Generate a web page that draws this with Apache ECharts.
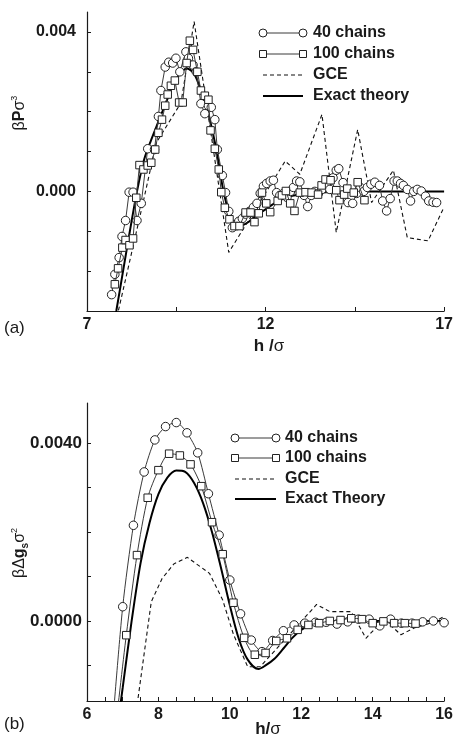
<!DOCTYPE html>
<html><head><meta charset="utf-8">
<script src="https://cdn.jsdelivr.net/npm/echarts@6/dist/echarts.min.js"></script>
<style>html,body{margin:0;padding:0;background:#fff}#c{width:456px;height:743px}</style>
</head><body><div id="c"></div>
<script>
const FONT = '"Liberation Sans", Arial, Helvetica, sans-serif';

// ---------- Panel (a): beta P sigma^3 vs h/sigma ----------
const aXTicks = [7, 9.5, 12, 14.5, 17];
const aXLabels = [7, 12, 17];
const aYTicks = [-0.002, -0.001, 0, 0.001, 0.002, 0.003, 0.004];
const aYLabels = [0, 0.004];

const aChains40 = [
 [7.69,-0.00259],[7.78,-0.00208],[7.9,-0.00166],[7.98,-0.00113],[8.08,-0.00073],[8.18,-0.00002],
 [8.29,-0.00002],[8.4,-0.00073],[8.52,-0.0003],[8.7,0.00107],[8.89,0.00105],[9.0,0.00188],
 [9.07,0.00253],[9.19,0.00312],[9.29,0.00324],[9.4,0.00322],[9.49,0.00334],[9.6,0.003],
 [9.77,0.0035],[9.84,0.00334],[9.97,0.00317],[10.06,0.003],[10.19,0.0022],[10.3,0.00195],
 [10.4,0.00215],[10.48,0.00211],[10.58,0.0018],[10.65,0.00105],[10.79,0.0004],[10.88,-0.00003],
 [10.97,-0.0005],[11.07,-0.00091],[11.16,-0.00083],[11.25,-0.00075],[11.35,-0.00068],[11.44,-0.00057],
 [11.55,-0.0005],[11.66,-0.0004],[11.76,-0.0003],[11.85,-0.00005],[11.94,0.00013],[12.03,0.0002],
 [12.13,0.00026],[12.22,0.00028],[12.31,-0.00003],[12.4,-0.0001],[12.5,-0.00005],[12.6,-0.00015],
 [12.7,0.0],[12.78,0.0001],[12.87,0.00026],[12.96,0.00024],[13.08,-0.0001],[13.18,-0.00038],
 [13.28,-0.0001],[13.38,0.0],[13.48,-0.00005],[13.58,0.00005],[13.7,0.00018],[13.8,0.00005],
 [13.89,0.00034],[13.98,0.00053],[14.05,0.00057],[14.17,0.00022],[14.31,-0.00028],[14.44,-0.0003],
 [14.55,-0.00005],[14.65,0.0001],[14.75,0.0],[14.85,0.0001],[14.95,0.00018],[15.06,0.00023],
 [15.19,0.00015],[15.28,-0.00024],[15.39,-0.00049],[15.49,-0.00018],[15.6,0.00026],[15.69,0.00026],
 [15.78,0.0002],[15.86,0.00015],[15.97,0.00005],[16.06,-0.00024],[16.15,0.0],[16.25,0.00005],
 [16.36,0.00001],[16.48,-0.00012],[16.57,-0.00024],[16.69,-0.00027],[16.79,-0.00028]
];
const aChains100 = [
 [7.78,-0.00233],[7.87,-0.00193],[7.99,-0.00141],[8.08,-0.00122],[8.19,-0.00135],[8.29,-0.00118],
 [8.38,-0.00016],[8.47,0.00066],[8.58,0.00055],[8.7,0.00065],[8.8,0.00072],[8.91,0.00105],
 [9.0,0.00147],[9.1,0.0018],[9.19,0.00215],[9.26,0.00243],[9.35,0.00265],[9.46,0.00278],
 [9.58,0.00223],[9.68,0.00223],[9.79,0.00322],[9.88,0.00378],[9.97,0.00355],[10.09,0.003],
 [10.19,0.00253],[10.3,0.0024],[10.4,0.0023],[10.46,0.00153],[10.58,0.00107],[10.69,0.00055],
 [10.76,-0.00002],[10.86,-0.00041],[10.99,-0.0007],[11.13,-0.00087],[11.27,-0.00087],[11.44,-0.00053],
 [11.58,-0.00053],[11.69,-0.00077],[11.81,-0.00055],[11.9,-0.00003],[12.02,-0.0003],[12.13,-0.00052],
 [12.34,-0.00024],[12.46,-0.0001],[12.57,0.00001],[12.69,-0.0003],[12.81,-0.00049],[12.96,-0.00003],
 [13.12,-0.00002],[13.29,-0.00003],[13.47,-0.00008],[13.57,0.00015],[13.68,0.0003],[13.82,0.00028],
 [13.98,0.00003],[14.07,-0.00022],[14.2,-0.00008],[14.29,0.00007],[14.47,-0.00003],[14.58,0.00023],
 [14.77,-0.00022]
];
const aGCE = [
 [7.75,-0.0035],[8.57,-0.00028],[8.94,0.00122],[9.63,0.00222],[10.0,0.00426],[10.97,-0.00153],
 [12.55,0.00076],[12.96,0.00043],[13.58,0.00193],[13.98,-0.00103],[14.58,0.00155],[14.97,-0.00028],
 [15.58,0.00053],[15.97,-0.00116],[16.55,-0.00124],[16.99,-0.00041]
];
const aTheory = [
 [7.7,-0.0036],[7.82,-0.003],[8.0,-0.00205],[8.2,-0.001],[8.4,0.0],[8.6,0.0008],[8.8,0.0013],
 [9.0,0.00175],[9.2,0.0022],[9.4,0.00265],[9.6,0.00295],[9.8,0.00308],[10.0,0.00295],[10.2,0.0025],
 [10.4,0.00195],[10.6,0.00115],[10.7,0.00065],[10.8,0.0001],[10.9,-0.0003],[11.0,-0.0006],
 [11.1,-0.00078],[11.2,-0.00086],[11.3,-0.00086],[11.5,-0.00078],[11.75,-0.0006],[12.0,-0.00045],
 [12.25,-0.0003],[12.5,-0.00018],[12.75,-0.00011],[13.0,-0.00007],[13.5,-0.00003],[14.0,-0.00001],
 [14.5,0.0],[15.5,0.0],[17.0,0.0]
];

// ---------- Panel (b): beta Delta g_s sigma^2 vs h/sigma ----------
const bXTicks = [6,6.5,7,7.5,8,8.5,9,9.5,10,10.5,11,11.5,12,12.5,13,13.5,14,14.5,15,15.5,16];
const bXLabels = [6, 8, 10, 12, 14, 16];
const bYTicks = [-0.001, 0, 0.001, 0.002, 0.003, 0.004];
const bYLabels = [0, 0.004];

const bChains40 = [
 [6.7,-0.0025],[7.0,0.00032],[7.3,0.00215],[7.6,0.00335],[7.9,0.00407],[8.2,0.00437],[8.5,0.00446],
 [8.8,0.00423],[9.1,0.00378],[9.4,0.00286],[9.7,0.00193],[10.0,0.00092],[10.3,0.00016],[10.6,-0.00043],
 [10.9,-0.00069],[11.2,-0.00044],[11.5,-0.00022],[11.8,-0.00009],[12.1,-0.00005],[12.4,-0.00003],
 [12.7,-0.00003],[13.0,-0.00007],[13.3,-0.00002],[13.6,0.00004],[13.9,0.00004],[14.2,-0.00011],
 [14.5,0.00004],[14.8,-0.00005],[15.1,-0.00005],[15.4,-0.00002],[15.7,0.0],[16.0,-0.00004]
];
const bChains100 = [
 [6.8,-0.0024],[7.1,-0.00032],[7.4,0.00148],[7.7,0.00277],[8.0,0.00339],[8.3,0.00376],[8.6,0.00372],
 [8.9,0.00352],[9.2,0.00303],[9.5,0.00222],[9.8,0.0015],[10.1,0.00041],[10.4,-0.00038],[10.7,-0.00076],
 [11.0,-0.00072],[11.3,-0.00045],[11.6,-0.00039],[11.9,-0.0002],[12.2,-0.00009],[12.5,-0.00005],
 [12.8,0.0],[13.1,0.00002],[13.4,0.00006],[13.7,0.00004],[14.0,-0.00005],[14.3,-0.00001],
 [14.6,-0.00005],[14.9,-0.00005],[15.2,-0.00006]
];
const bGCE = [
 [7.35,-0.0022],[7.8,0.00043],[8.1,0.00095],[8.43,0.00128],[8.81,0.00143],[9.43,0.00107],[9.8,0.00047],
 [10.1,-0.0003],[10.5,-0.00103],[10.85,-0.00103],[12.43,0.00037],[12.8,0.00021],[13.4,0.00021],
 [13.81,-0.00039],[14.32,0.00004],[14.79,-0.00031],[15.16,-0.00016],[15.7,-0.00003],[16.0,0.0001]
];
const bTheory = [
 [6.9,-0.0021],[7.0,-0.0015],[7.25,0.0],[7.5,0.0013],[7.75,0.0022],[8.0,0.00285],[8.25,0.00322],
 [8.5,0.00338],[8.75,0.00335],[9.0,0.0031],[9.25,0.00265],[9.5,0.002],[9.75,0.0012],[10.0,0.00035],
 [10.25,-0.0004],[10.5,-0.00087],[10.8,-0.00108],[11.0,-0.001],[11.25,-0.00085],[11.5,-0.00062],
 [11.75,-0.00038],[12.0,-0.0002],[12.25,-0.0001],[12.5,-0.00006],[13.0,-0.00003],[13.5,-0.00001],
 [14.0,0.0],[15.0,0.0],[16.0,0.0]
];

const legendA = ['40 chains', '100 chains', 'GCE', 'Exact theory'];
const legendB = ['40 chains', '100 chains', 'GCE', 'Exact Theory'];

const INK = '#1a1a1a';
function xAxisDef(gi, min, max, ticks, labels) {
  return {
    type: 'value', gridIndex: gi, min: min, max: max,
    axisLine: { onZero: false, lineStyle: { color: INK, width: 1.2 } },
    axisTick: { inside: true, length: 4, customValues: ticks, lineStyle: { color: INK } },
    axisLabel: { customValues: labels, margin: 6, color: INK, fontFamily: FONT, fontWeight: 'bold', fontSize: 16 },
    splitLine: { show: false }
  };
}
function yAxisDef(gi, min, max, ticks, labels, digits, size, margin) {
  return {
    type: 'value', gridIndex: gi, min: min, max: max,
    axisLine: { show: true, onZero: false, lineStyle: { color: INK, width: 1.2 } },
    axisTick: { show: true, inside: true, length: 4, customValues: ticks, lineStyle: { color: INK } },
    axisLabel: { customValues: labels, margin: margin, color: INK, fontFamily: FONT, fontWeight: 'bold', fontSize: size,
      formatter: v => Number(v).toFixed(digits) },
    splitLine: { show: false }
  };
}
function circles(data, ai, sm) {
  return { type: 'line', xAxisIndex: ai, yAxisIndex: ai, data: data, symbol: 'circle', symbolSize: 8.5,
    showAllSymbol: true, clip: true, z: 3, smooth: sm,
    lineStyle: { color: '#3a3a3a', width: 1 }, itemStyle: { color: '#fff', borderColor: '#222', borderWidth: 1 } };
}
function squares(data, ai, sm) {
  return { type: 'line', xAxisIndex: ai, yAxisIndex: ai, data: data, symbol: 'rect', symbolSize: 7.5,
    showAllSymbol: true, clip: true, z: 4, smooth: sm,
    lineStyle: { color: '#3a3a3a', width: 1 }, itemStyle: { color: '#fff', borderColor: '#222', borderWidth: 1 } };
}
function dashed(data, ai) {
  return { type: 'line', xAxisIndex: ai, yAxisIndex: ai, data: data, symbol: 'none', clip: true, z: 2,
    lineStyle: { color: '#111', width: 1.1, type: [4, 3] } };
}
function theory(data, ai) {
  return { type: 'line', xAxisIndex: ai, yAxisIndex: ai, data: data, symbol: 'none', smooth: 0.3, clip: true, z: 2,
    lineStyle: { color: '#000', width: 2 } };
}

function legendGraphics(x1, x2, xt, ys, names) {
  const g = [];
  const tStyle = { fill: INK, font: 'bold 16px ' + FONT, verticalAlign: 'middle', align: 'left' };
  g.push({ type: 'line', shape: { x1: x1, y1: ys[0], x2: x2, y2: ys[0] }, style: { stroke: '#3a3a3a', lineWidth: 1 } });
  g.push({ type: 'circle', shape: { cx: x1, cy: ys[0], r: 4 }, style: { fill: '#fff', stroke: '#222', lineWidth: 1 } });
  g.push({ type: 'circle', shape: { cx: x2, cy: ys[0], r: 4 }, style: { fill: '#fff', stroke: '#222', lineWidth: 1 } });
  g.push({ type: 'line', shape: { x1: x1, y1: ys[1], x2: x2, y2: ys[1] }, style: { stroke: '#3a3a3a', lineWidth: 1 } });
  g.push({ type: 'rect', shape: { x: x1 - 3.5, y: ys[1] - 3.5, width: 7, height: 7 }, style: { fill: '#fff', stroke: '#222', lineWidth: 1 } });
  g.push({ type: 'rect', shape: { x: x2 - 3.5, y: ys[1] - 3.5, width: 7, height: 7 }, style: { fill: '#fff', stroke: '#222', lineWidth: 1 } });
  g.push({ type: 'line', shape: { x1: x1, y1: ys[2], x2: x2, y2: ys[2] }, style: { stroke: '#111', lineWidth: 1.1, lineDash: [4, 3] } });
  g.push({ type: 'line', shape: { x1: x1, y1: ys[3], x2: x2, y2: ys[3] }, style: { stroke: '#000', lineWidth: 2 } });
  names.forEach((n, i) => g.push({ type: 'text', x: xt, y: ys[i], style: Object.assign({ text: n }, tStyle) }));
  return g;
}

const chart = echarts.init(document.getElementById('c'), null, { renderer: 'canvas' });
const graphics = []
  .concat(legendGraphics(263, 303, 313, [33, 54, 75, 96], legendA))
  .concat(legendGraphics(235, 276, 285, [438, 458, 479, 499], legendB))
  .concat([
    { type: 'text', x: 20, y: 113, rotation: Math.PI / 2,
      style: { text: '{g|β}{b|P}{g|σ}{sup|3}', align: 'center', verticalAlign: 'middle',
        rich: { g: { font: '16px ' + FONT, fill: INK, lineHeight: 20 }, b: { font: 'bold 16px ' + FONT, fill: INK, lineHeight: 20 },
                sup: { font: '9px ' + FONT, fill: INK, verticalAlign: 'top', lineHeight: 9 } } } },
    { type: 'text', x: 20, y: 553, rotation: Math.PI / 2,
      style: { text: '{g|βΔ}{b|g}{sub|s}{g|σ}{sup|2}', align: 'center', verticalAlign: 'middle',
        rich: { g: { font: '16px ' + FONT, fill: INK, lineHeight: 20 }, b: { font: 'bold 16px ' + FONT, fill: INK, lineHeight: 20 },
                sub: { font: 'bold 10px ' + FONT, fill: INK, verticalAlign: 'bottom', lineHeight: 10 },
                sup: { font: '9px ' + FONT, fill: INK, verticalAlign: 'top', lineHeight: 9 } } } },
    { type: 'text', x: 269, y: 346,
      style: { text: '{b|h /}{g|σ}', align: 'center', verticalAlign: 'middle',
        rich: { b: { font: 'bold 17px ' + FONT, fill: INK }, g: { font: '17px ' + FONT, fill: INK } } } },
    { type: 'text', x: 268, y: 729,
      style: { text: '{b|h/}{g|σ}', align: 'center', verticalAlign: 'middle',
        rich: { b: { font: 'bold 17px ' + FONT, fill: INK }, g: { font: '17px ' + FONT, fill: INK } } } },
    { type: 'text', x: 4, y: 328, style: { text: '(a)', font: '17px ' + FONT, fill: INK, verticalAlign: 'middle' } },
    { type: 'text', x: 4, y: 724, style: { text: '(b)', font: '17px ' + FONT, fill: INK, verticalAlign: 'middle' } }
  ]);

chart.setOption({
  animation: false,
  backgroundColor: '#fff',
  grid: [
    { left: 87, top: 12, width: 360, height: 299 },
    { left: 87, top: 403, width: 360, height: 298 }
  ],
  xAxis: [
    xAxisDef(0, 7, 17, aXTicks, aXLabels),
    xAxisDef(1, 6, 16, bXTicks, bXLabels)
  ],
  yAxis: [
    yAxisDef(0, -0.003, 0.0045, aYTicks, aYLabels, 3, 16, 11),
    yAxisDef(1, -0.0018, 0.0049, bYTicks, bYLabels, 4, 17, 5)
  ],
  series: [
    theory(aTheory, 0), dashed(aGCE, 0), circles(aChains40, 0, false), squares(aChains100, 0, false),
    theory(bTheory, 1), dashed(bGCE, 1), circles(bChains40, 1, 0.25), squares(bChains100, 1, 0.25)
  ],
  graphic: graphics
});
</script></body></html>
